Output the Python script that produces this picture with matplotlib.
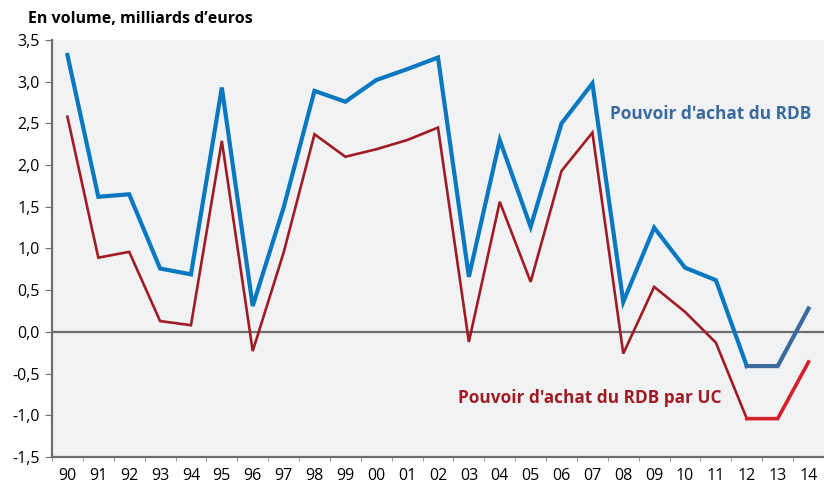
import matplotlib
matplotlib.use("Agg")
import matplotlib.pyplot as plt
import numpy as np

years = ["90", "91", "92", "93", "94", "95", "96", "97", "98", "99", "00", "01", "02",
         "03", "04", "05", "06", "07", "08", "09", "10", "11", "12", "13", "14"]
rdb = [3.32, 1.62, 1.65, 0.76, 0.69, 2.93, 0.31, 1.49, 2.89, 2.76, 3.02, 3.15, 3.29,
       0.66, 2.30, 1.26, 2.50, 2.98, 0.36, 1.25, 0.77, 0.62, -0.41, -0.41, 0.28]
rdb_uc = [2.58, 0.89, 0.96, 0.13, 0.08, 2.29, -0.23, 0.95, 2.37, 2.10, 2.19, 2.30, 2.45,
          -0.12, 1.56, 0.60, 1.93, 2.39, -0.26, 0.54, 0.24, -0.13, -1.04, -1.04, -0.36]
yticks = [-1.5, -1.0, -0.5, 0.0, 0.5, 1.0, 1.5, 2.0, 2.5, 3.0, 3.5]
split = 22  # index of "12": last segments highlighted

plt.rcParams['font.family'] = ['Open Sans', 'DejaVu Sans']

fig = plt.figure(figsize=(8.24, 4.86), dpi=100)
ax = fig.add_axes([52/824, 1-457/486, 1-52/824, (457-40)/486])
ax.set_facecolor('#f1f2f4')

x = np.arange(len(years))
ax.axhline(0, color='#6e6e6e', lw=1.6, zorder=1)

ax.plot(x[:split+1], rdb_uc[:split+1], color='#a01c24', lw=1.9, zorder=2,
        solid_joinstyle='miter')
ax.plot(x[split:], rdb_uc[split:], color='#d4202a', lw=2.6, zorder=2,
        solid_joinstyle='miter')
ax.plot(x[:split+1], rdb[:split+1], color='#0a78c0', lw=3.0, zorder=3,
        solid_joinstyle='miter')
ax.plot(x[split:], rdb[split:], color='#3b6a9c', lw=3.0, zorder=3,
        solid_joinstyle='miter')

ax.set_xlim(-0.5, len(years) - 0.5)
ax.set_ylim(-1.5, 3.5)
ax.set_yticks(yticks)
ax.set_yticklabels([f"{v:.1f}".replace('.', ',') for v in yticks], fontsize=11.5)
ax.set_xticks(x)
ax.set_xticklabels(years, fontsize=11.5)
ax.set_xticks(np.arange(len(years) + 1) - 0.5, minor=True)
ax.tick_params(axis='x', which='major', length=0, pad=8)
ax.tick_params(axis='x', which='minor', length=3, color='#808080', direction='out')
ax.tick_params(axis='y', length=5, color='#707070', direction='out', pad=4)

for s in ['top', 'right']:
    ax.spines[s].set_visible(False)
for s in ['left', 'bottom']:
    ax.spines[s].set_color('#6e6e6e')
    ax.spines[s].set_linewidth(1.6)

fig.text(28/824, 1-19/486, "En volume, milliards d\u2019euros", fontsize=11.5,
         fontweight='bold', va='center', ha='left')
ax.text(17.57, 2.61, "Pouvoir d'achat du RDB", color='#3b6a9c', fontsize=12.4,
        fontweight='bold', va='center', ha='left')
ax.text(12.65, -0.79, "Pouvoir d'achat du RDB par UC", color='#a01c24', fontsize=12.4,
        fontweight='bold', va='center', ha='left')

fig.savefig("out.png", dpi=100)
